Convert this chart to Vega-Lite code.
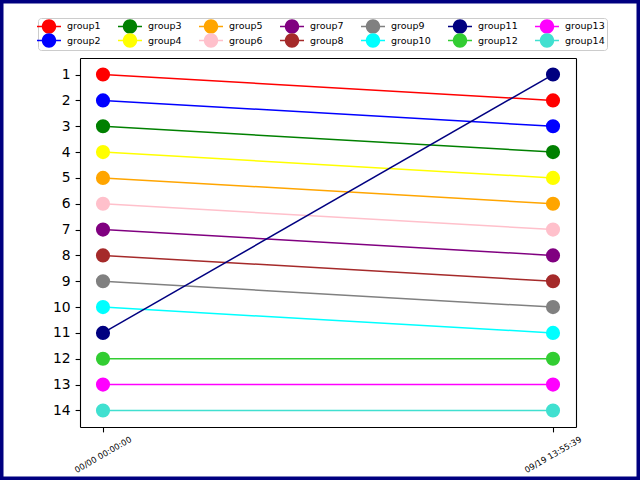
{
  "$schema": "https://vega.github.io/schema/vega-lite/v6.json",
  "width": 640,
  "height": 480,
  "autosize": "none",
  "padding": 0,
  "background": "white",
  "config": {
    "view": {"stroke": "#000080", "strokeWidth": 7},
    "font": "DejaVu Sans",
    "axis": {"labelFont": "DejaVu Sans", "labelColor": "black", "domainColor": "black", "tickColor": "black", "domainWidth": 1.1, "tickWidth": 1.1, "grid": false, "title": null},
    "legend": {
      "orient": "none", "legendX": 38, "legendY": 18, "direction": "horizontal", "columns": 7, "title": null,
      "strokeColor": "#cccccc", "fillColor": "white", "cornerRadius": 3, "padding": 2,
      "labelFont": "DejaVu Sans", "labelFontSize": 9.5, "labelColor": "black",
      "symbolSize": 144, "symbolStrokeWidth": 0, "symbolOpacity": 1,
      "symbolType": "M-1.5,-0.125H2.5V0.125H-1.5Z M1.7,0A1.2,1.2,0,1,1,-0.7,0A1.2,1.2,0,1,1,1.7,0Z",
      "labelOffset": 15, "columnPadding": 17, "rowPadding": -1.5
    }
  },
  "data": {
    "values": [
      {"group": "group1", "time": "00/00 00:00:00", "rank": 1},
      {"group": "group1", "time": "09/19 13:55:39", "rank": 2},
      {"group": "group2", "time": "00/00 00:00:00", "rank": 2},
      {"group": "group2", "time": "09/19 13:55:39", "rank": 3},
      {"group": "group3", "time": "00/00 00:00:00", "rank": 3},
      {"group": "group3", "time": "09/19 13:55:39", "rank": 4},
      {"group": "group4", "time": "00/00 00:00:00", "rank": 4},
      {"group": "group4", "time": "09/19 13:55:39", "rank": 5},
      {"group": "group5", "time": "00/00 00:00:00", "rank": 5},
      {"group": "group5", "time": "09/19 13:55:39", "rank": 6},
      {"group": "group6", "time": "00/00 00:00:00", "rank": 6},
      {"group": "group6", "time": "09/19 13:55:39", "rank": 7},
      {"group": "group7", "time": "00/00 00:00:00", "rank": 7},
      {"group": "group7", "time": "09/19 13:55:39", "rank": 8},
      {"group": "group8", "time": "00/00 00:00:00", "rank": 8},
      {"group": "group8", "time": "09/19 13:55:39", "rank": 9},
      {"group": "group9", "time": "00/00 00:00:00", "rank": 9},
      {"group": "group9", "time": "09/19 13:55:39", "rank": 10},
      {"group": "group10", "time": "00/00 00:00:00", "rank": 10},
      {"group": "group10", "time": "09/19 13:55:39", "rank": 11},
      {"group": "group11", "time": "00/00 00:00:00", "rank": 11},
      {"group": "group11", "time": "09/19 13:55:39", "rank": 1},
      {"group": "group12", "time": "00/00 00:00:00", "rank": 12},
      {"group": "group12", "time": "09/19 13:55:39", "rank": 12},
      {"group": "group13", "time": "00/00 00:00:00", "rank": 13},
      {"group": "group13", "time": "09/19 13:55:39", "rank": 13},
      {"group": "group14", "time": "00/00 00:00:00", "rank": 14},
      {"group": "group14", "time": "09/19 13:55:39", "rank": 14}
    ]
  },
  "encoding": {
    "color": {"field": "group", "type": "nominal",
      "scale": {
        "domain": ["group1","group3","group5","group7","group9","group11","group13","group2","group4","group6","group8","group10","group12","group14"],
        "range": ["#ff0000","#008000","#ffa500","#800080","#808080","#000080","#ff00ff","#0000ff","#ffff00","#ffc0cb","#a52a2a","#00ffff","#32cd32","#40e0d0"]
      }}
  },
  "resolve": {"axis": {"x": "independent", "y": "independent"}},
  "layer": [
    {
      "mark": {"type": "line", "strokeWidth": 1.5},
      "encoding": {
        "x": {"field": "time", "type": "nominal", "scale": {"type": "point", "range": [80, 576], "padding": 0.0511},
              "axis": {"orient": "top", "offset": -58, "labels": false, "ticks": false}},
        "y": {"field": "rank", "type": "quantitative", "scale": {"domain": [0.36, 14.64], "range": [58, 427], "nice": false, "zero": false},
              "axis": {"orient": "right", "offset": -64, "labels": false, "ticks": false}}
      }
    },
    {
      "mark": {"type": "point", "shape": "circle", "filled": true, "opacity": 1, "size": 200},
      "encoding": {
        "x": {"field": "time", "type": "nominal",
              "axis": {"orient": "bottom", "offset": -53, "labelAngle": -30, "labelAlign": "center", "labelBaseline": "middle", "labelFontSize": 8.33, "tickSize": 4.9, "labelPadding": 23, "domain": true}},
        "y": {"field": "rank", "type": "quantitative",
              "axis": {"orient": "left", "offset": -80, "values": [1,2,3,4,5,6,7,8,9,10,11,12,13,14], "labelFontSize": 13.9, "tickSize": 4.9, "labelPadding": 4.9}}
      }
    }
  ]
}
